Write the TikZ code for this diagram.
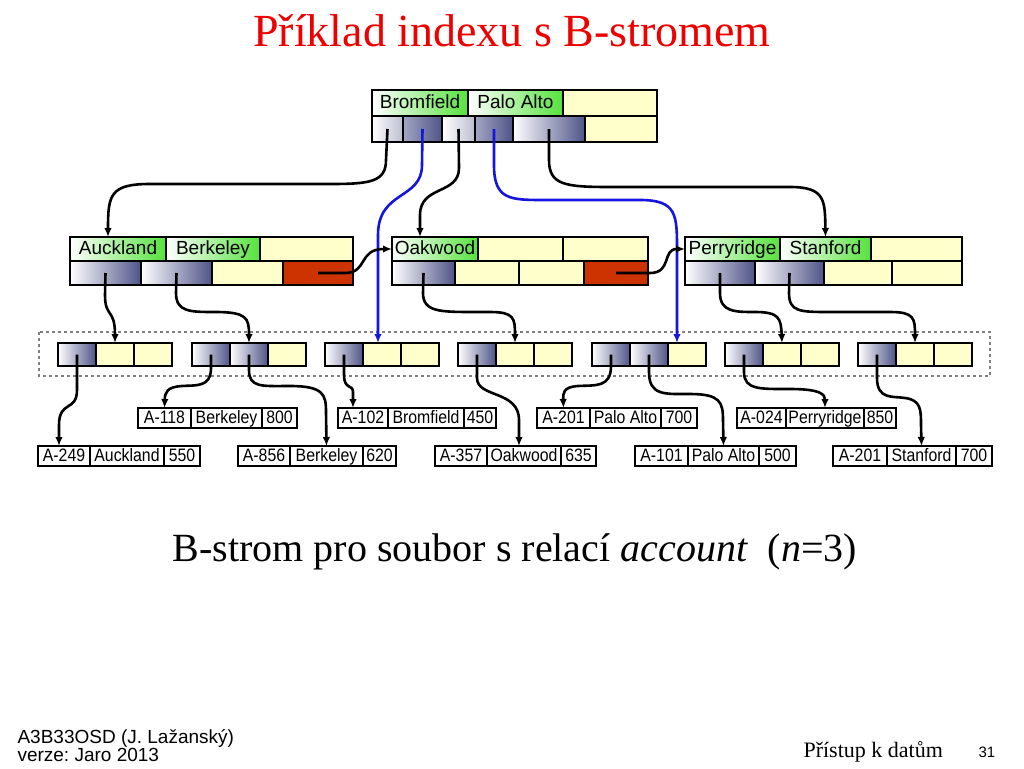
\documentclass[tikz,border=0pt]{standalone}
\usepackage{fontspec}
\setmainfont{Liberation Serif}
\setsansfont{Liberation Sans}
\newfontfamily\recfont[FakeStretch=0.88]{Liberation Sans}
\usetikzlibrary{arrows.meta,positioning}
\definecolor{keygreen}{HTML}{55E23C}
\definecolor{nilyellow}{HTML}{FFFFCC}
\definecolor{nxtred}{HTML}{CC3300}
\definecolor{ptrdark}{HTML}{4F5488}
\definecolor{ptrlight}{HTML}{BCBED0}
\definecolor{ptrmid}{HTML}{A3A6C2}
\definecolor{ptrblue}{HTML}{1515E0}
\definecolor{titlered}{HTML}{EE0000}

\begin{document}
\begin{tikzpicture}[x=1pt,y=-1pt,
  cell/.style={draw,line width=1.8pt,inner sep=0pt,outer sep=0pt,anchor=north west,minimum height=24pt,text height=14pt,text depth=4pt,font=\fontsize{19}{19}\sffamily},
  root/.style={minimum height=26pt},
  key/.style={cell,left color=white,right color=keygreen},
  nil/.style={cell,fill=nilyellow},
  nxt/.style={cell,fill=nxtred},
  ptr/.style={cell,left color=white,right color=ptrdark},
  leaf/.style={minimum width=38pt,minimum height=23pt},
  rec/.style={draw,line width=1.2pt,inner sep=0pt,outer sep=0pt,anchor=north west,minimum height=20pt,text height=13pt,text depth=3pt,font=\recfont\fontsize{18}{18}\selectfont},
  link/.style={-{Latex[length=9pt,width=7.5pt]},line width=2.6pt},
  rlink/.style={link,color=ptrblue}]
  \useasboundingbox (0,0) rectangle (1024,768);

  \node[anchor=base,text=titlered,font=\fontsize{46}{46}\selectfont] (title) at (512,47) {Příklad indexu s B-stromem};

  % root
  \node[key,root,minimum width=96pt] (rk1) at (372,90) {Bromfield};
  \node[key,root,minimum width=95pt,right=0pt of rk1] (rk2) {Palo Alto};
  \node[nil,root,minimum width=94pt,right=0pt of rk2] (rk3) {};
  \node[cell,root,left color=white,right color=ptrlight,minimum width=31pt] (rp1) at (372,116) {};
  \node[cell,root,left color=ptrmid,right color=ptrdark,minimum width=39pt,right=0pt of rp1] (rp2) {};
  \node[cell,root,left color=white,right color=ptrlight,minimum width=33pt,right=0pt of rp2] (rp3) {};
  \node[cell,root,left color=ptrmid,right color=ptrdark,minimum width=38pt,right=0pt of rp3] (rp4) {};
  \node[ptr,root,minimum width=72pt,right=0pt of rp4] (rp5) {};
  \node[nil,root,minimum width=72pt,right=0pt of rp5] (rp6) {};

  % inner nodes
  \node[key,minimum width=96pt] (ak1) at (70,237) {Auckland};
  \node[key,minimum width=94pt,right=0pt of ak1] (ak2) {Berkeley};
  \node[nil,minimum width=93pt,right=0pt of ak2] (ak3) {};
  \node[ptr,minimum width=71pt] (ap1) at (70,261) {};
  \node[ptr,minimum width=71pt,right=0pt of ap1] (ap2) {};
  \node[nil,minimum width=71pt,right=0pt of ap2] (ap3) {};
  \node[nxt,minimum width=70pt,right=0pt of ap3] (ap4) {};

  \node[key,minimum width=86pt] (ok1) at (392,237) {Oakwood};
  \node[nil,minimum width=85pt,right=0pt of ok1] (ok2) {};
  \node[nil,minimum width=85pt,right=0pt of ok2] (ok3) {};
  \node[ptr,minimum width=63pt] (op1) at (392,261) {};
  \node[nil,minimum width=64pt,right=0pt of op1] (op2) {};
  \node[nil,minimum width=65pt,right=0pt of op2] (op3) {};
  \node[nxt,minimum width=64pt,right=0pt of op3] (op4) {};

  \node[key,minimum width=95pt] (pk1) at (685,237) {Perryridge};
  \node[key,minimum width=91pt,right=0pt of pk1] (pk2) {Stanford};
  \node[nil,minimum width=91pt,right=0pt of pk2] (pk3) {};
  \node[ptr,minimum width=70pt] (pp1) at (685,261) {};
  \node[ptr,minimum width=69pt,right=0pt of pp1] (pp2) {};
  \node[nil,minimum width=68pt,right=0pt of pp2] (pp3) {};
  \node[nil,minimum width=70pt,right=0pt of pp3] (pp4) {};

  % leaves
  \draw[dashed,gray,line width=1.2pt] (39,332) rectangle (990,376);
  \node[ptr,leaf] (l1a) at (58,343) {};
  \node[nil,leaf,right=0pt of l1a] (l1b) {};
  \node[nil,leaf,right=0pt of l1b] (l1c) {};
  \node[ptr,leaf] (l2a) at (192,343) {};
  \node[ptr,leaf,right=0pt of l2a] (l2b) {};
  \node[nil,leaf,right=0pt of l2b] (l2c) {};
  \node[ptr,leaf] (l3a) at (325,343) {};
  \node[nil,leaf,right=0pt of l3a] (l3b) {};
  \node[nil,leaf,right=0pt of l3b] (l3c) {};
  \node[ptr,leaf] (l4a) at (458,343) {};
  \node[nil,leaf,right=0pt of l4a] (l4b) {};
  \node[nil,leaf,right=0pt of l4b] (l4c) {};
  \node[ptr,leaf] (l5a) at (592,343) {};
  \node[ptr,leaf,right=0pt of l5a] (l5b) {};
  \node[nil,leaf,right=0pt of l5b] (l5c) {};
  \node[ptr,leaf] (l6a) at (725,343) {};
  \node[nil,leaf,right=0pt of l6a] (l6b) {};
  \node[nil,leaf,right=0pt of l6b] (l6c) {};
  \node[ptr,leaf] (l7a) at (858,343) {};
  \node[nil,leaf,right=0pt of l7a] (l7b) {};
  \node[nil,leaf,right=0pt of l7b] (l7c) {};

  % records
  \node[rec,minimum width=53pt] (a118) at (138,408) {A-118};
  \node[rec,minimum width=71pt,right=0pt of a118] (a118n) {Berkeley};
  \node[rec,minimum width=35pt,right=0pt of a118n] (a118v) {800};
  \node[rec,minimum width=50pt] (a102) at (338,408) {A-102};
  \node[rec,minimum width=76pt,right=0pt of a102] (a102n) {Bromfield};
  \node[rec,minimum width=32pt,right=0pt of a102n] (a102v) {450};
  \node[rec,minimum width=53pt] (a201) at (537,408) {A-201};
  \node[rec,minimum width=71pt,right=0pt of a201] (a201n) {Palo Alto};
  \node[rec,minimum width=36pt,right=0pt of a201n] (a201v) {700};
  \node[rec,minimum width=49pt] (a024) at (737,408) {A-024};
  \node[rec,minimum width=78pt,right=0pt of a024] (a024n) {Perryridge};
  \node[rec,minimum width=32pt,right=0pt of a024n] (a024v) {850};

  \node[rec,minimum width=52pt] (a249) at (38,446) {A-249};
  \node[rec,minimum width=74pt,right=0pt of a249] (a249n) {Auckland};
  \node[rec,minimum width=36pt,right=0pt of a249n] (a249v) {550};
  \node[rec,minimum width=52pt] (a856) at (238,446) {A-856};
  \node[rec,minimum width=73pt,right=0pt of a856] (a856n) {Berkeley};
  \node[rec,minimum width=33pt,right=0pt of a856n] (a856v) {620};
  \node[rec,minimum width=52pt] (a357) at (435,446) {A-357};
  \node[rec,minimum width=74pt,right=0pt of a357] (a357n) {Oakwood};
  \node[rec,minimum width=35pt,right=0pt of a357n] (a357v) {635};
  \node[rec,minimum width=53pt] (a101) at (635,446) {A-101};
  \node[rec,minimum width=71pt,right=0pt of a101] (a101n) {Palo Alto};
  \node[rec,minimum width=37pt,right=0pt of a101n] (a101v) {500};
  \node[rec,minimum width=54pt] (s201) at (833,446) {A-201};
  \node[rec,minimum width=69pt,right=0pt of s201] (s201n) {Stanford};
  \node[rec,minimum width=36pt,right=0pt of s201n] (s201v) {700};

  % root pointers
  \draw[link] (rp1.center) -- (386,160) .. controls (386,182) and (370,184) .. (330,184) -- (150,184) .. controls (110,184) and (108,195) .. ([xshift=-10pt]ak1.north);
  \draw[rlink] (rp2.center) -- (422,165) .. controls (422,200) and (378,190) .. (378,235) -- ([xshift=-4pt]l3b.north);
  \draw[link] (rp3.center) -- (459,168) .. controls (459,195) and (420,185) .. (420,215) -- ([xshift=-15pt]ok1.north);
  \draw[rlink] (rp4.center) -- (494,165) .. controls (494,200) and (510,200) .. (545,200) -- (640,200) .. controls (677,200) and (677,215) .. (677,250) -- ([xshift=-10pt]l5c.north);
  \draw[link] (rp5.center) -- (549,160) .. controls (549,185) and (565,187) .. (610,187) -- (790,187) .. controls (825,187) and (825,200) .. (pk2.north);

  % inner pointers
  \draw[link] (ap1.center) -- (105,295) .. controls (105,318) and (115,308) .. (l1b.north);
  \draw[link] (ap2.center) -- (176,293) .. controls (176,312) and (190,312) .. (215,312) .. controls (247,312) and (249,318) .. (l2b.north);
  \draw[link] (ap4.center) -- (345,273) .. controls (368,273) and (358,249) .. (ok1.west);
  \draw[link] (op1.center) -- (423,293) .. controls (423,312) and (440,312) .. (475,312) -- (490,312) .. controls (514,312) and (515,318) .. (l4b.north);
  \draw[link] (op4.center) -- (650,273) .. controls (672,273) and (662,249) .. (pk1.west);
  \draw[link] (pp1.center) -- (720,293) .. controls (720,312) and (735,312) .. (755,312) .. controls (779,312) and (781,318) .. (l6b.north);
  \draw[link] (pp2.center) -- (789,293) .. controls (789,312) and (800,312) .. (830,312) -- (890,312) .. controls (914,312) and (915,318) .. (l7b.north);

  % leaf pointers
  \draw[link] (l1a.center) -- (77,390) .. controls (77,412) and (59,400) .. (59,425) -- ([xshift=-5pt]a249.north);
  \draw[link] (l2a.center) -- (211,368) .. controls (211,388) and (195,385) .. (182,386) .. controls (167,387) and (165,392) .. (a118.north);
  \draw[link] (l2b.center) -- (249,370) .. controls (249,388) and (262,386) .. (290,386) .. controls (324,386) and (326,395) .. (326,412) -- (a856n.north);
  \draw[link] (l3a.center) -- (344,375) .. controls (344,390) and (353,384) .. (353,392) -- ([xshift=-10pt]a102.north);
  \draw[link] (l4a.center) -- (477,378) .. controls (477,398) and (519,390) .. (519,420) -- ([xshift=-5pt]a357n.north);
  \draw[link] (l5a.center) -- (611,366) .. controls (611,388) and (595,385) .. (578,386) .. controls (563,387) and (563,393) .. (a201.north);
  \draw[link] (l5b.center) -- (649,372) .. controls (649,396) and (665,394) .. (690,394) .. controls (720,394) and (723,402) .. (723,420) -- (a101n.north);
  \draw[link] (l6a.center) -- (744,372) .. controls (744,390) and (760,389) .. (790,389) .. controls (822,389) and (825,395) .. (a024n.north);
  \draw[link] (l7a.center) -- (877,378) .. controls (877,400) and (893,396) .. (905,398) .. controls (921,400) and (921,410) .. (921,425) -- (s201n.north);

  \node[anchor=base,font=\fontsize{40}{40}\selectfont] (caption) at (515,561) {B-strom pro soubor s relací \textit{account}~~(\textit{n}=3)};
  \node[anchor=base west,font=\fontsize{19}{19}\sffamily] (course) at (14,743) {A3B33OSD (J. Lažanský)};
  \node[anchor=base west,font=\fontsize{19}{19}\sffamily\frenchspacing] (version) at (14,761) {verze: Jaro 2013};
  \node[anchor=base west,font=\fontsize{22}{22}\selectfont] (topic) at (800,757) {Přístup k datům};
  \node[anchor=base west,font=\fontsize{15}{15}\sffamily] (page) at (975,757) {31};
\end{tikzpicture}
\end{document}
